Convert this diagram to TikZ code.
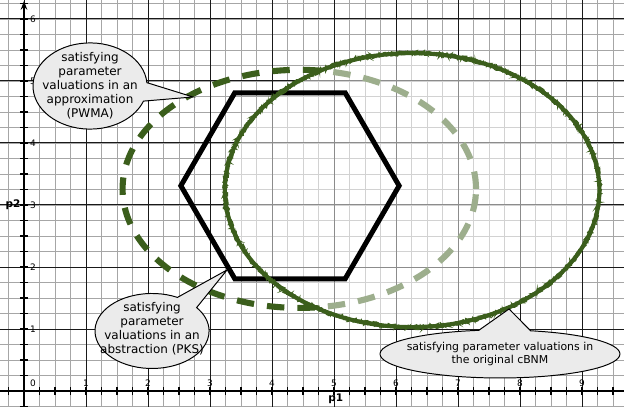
\documentclass[tikz,border=0pt]{standalone}
\usepackage{fontspec}
\setmainfont{DejaVu Sans}
\usetikzlibrary{shapes.callouts,decorations.pathmorphing,arrows.meta}
\definecolor{gdark}{HTML}{3B5E1C}
\definecolor{cfill}{HTML}{EBEBEB}
\begin{document}
\begin{tikzpicture}[x=1cm,y=1cm,
 minorgrid/.style={draw=black!35, line width=0.4pt},
 majorgrid/.style={draw=black!90, line width=0.45pt},
 axisline/.style={line width=0.9pt},
 tickmark/.style={line width=0.5pt},
 ticklabel/.style={font=\fontsize{4.1}{4.5}\selectfont, inner sep=0pt},
 axislabel/.style={font=\bfseries\fontsize{4.8}{5}\selectfont, inner sep=0pt},
 hexline/.style={line width=2.3pt, line join=miter},
 dashell/.style={draw=gdark, line width=2.8pt, dash pattern=on 8pt off 6pt},
 sketchbase/.style={draw=gdark, line width=1.9pt},
 sketchrough/.style={draw=gdark, line width=0.6pt, decorate, decoration={random steps, segment length=0.7pt, amplitude=0.9pt}},
 callbox/.style={ellipse callout, draw=black, line width=0.45pt, fill=cfill, inner sep=0pt, callout pointer arc=25},
 calltext/.style={font=\fontsize{5.5}{6.4}\selectfont, align=center, inner sep=0pt},
 calltextwide/.style={font=\fontsize{5.0}{6.4}\selectfont, align=center, inner sep=0pt}
]
\pgfmathsetseed{7}
\path[use as bounding box] (-0.387,-0.258) rectangle (9.677,6.306);
\fill[white] (-0.387,-0.258) rectangle (9.677,6.306);
% grid
\draw[minorgrid, step=0.25] (-0.387,-0.258) grid (9.677,6.306);
\draw[majorgrid, step=1] (-0.387,-0.258) grid (9.677,6.306);
% dashed ellipse (approximation)
\draw[dashell] (4.44,3.26) ellipse [x radius=2.85, y radius=1.92];
% overlay of the original region
\fill[white, opacity=0.5] (6.26,3.24) ellipse [x radius=3.02, y radius=2.21];
% axes
\draw[axisline] (-0.387,0) -- (9.677,0);
\draw[axisline, -{Stealth[length=4pt,width=3pt]}] (0,-0.258) -- (0,6.29);
\foreach \i in {-1,...,38} \draw[tickmark] (\i*0.25,-0.065) -- (\i*0.25,0.065);
\foreach \j in {-1,...,25} \draw[tickmark] (-0.065,\j*0.25) -- (0.065,\j*0.25);
\node[ticklabel] (x0) at (0.145,0.129) {0};
\foreach \i in {1,...,9} \node[ticklabel] (x\i) at (\i,0.13) {\i};
\foreach \j in {1,...,6} \node[ticklabel] (y\j) at (0.145,\j) {\j};
\node[axislabel] (p1) at (5.03,-0.13) {p1};
\node[axislabel] (p2) at (-0.177,3.0) {p2};
% hexagon (abstraction)
\draw[hexline] (2.53,3.31) -- (3.40,4.81) -- (5.18,4.81) -- (6.05,3.31) -- (5.18,1.81) -- (3.40,1.81) -- cycle;
% sketchy ellipse (original)
\draw[sketchbase] (6.26,3.24) ellipse [x radius=3.02, y radius=2.21];
\draw[sketchrough] (6.26,3.24) ellipse [x radius=3.02, y radius=2.21];
\draw[sketchrough] (6.26,3.24) ellipse [x radius=3.01, y radius=2.20];
\draw[sketchrough] (6.26,3.24) ellipse [x radius=3.03, y radius=2.22];
% callouts
\coordinate (tipA) at (2.726,4.742);
\coordinate (tipB) at (3.274,1.952);
\coordinate (tipC) at (7.823,1.323);
\node[callbox, minimum width=1.84cm, minimum height=1.39cm, callout absolute pointer={(tipA)}] (cA) at (1.065,4.919) {};
\node[calltext] (tA) at (cA.center) {satisfying\\parameter\\valuations in an\\approximation\\(PWMA)};
\node[callbox, minimum width=1.84cm, minimum height=1.21cm, callout absolute pointer={(tipB)}] (cB) at (2.065,0.968) {};
\node[calltext] (tB) at ([yshift=0.04cm]cB.center) {satisfying\\parameter\\valuations in an\\abstraction (PKS)};
\node[callbox, minimum width=3.87cm, minimum height=0.774cm, callout absolute pointer={(tipC)}] (cC) at (7.677,0.597) {};
\node[calltextwide] (tC) at (cC.center) {satisfying parameter valuations in\\the original cBNM};
\end{tikzpicture}
\end{document}
